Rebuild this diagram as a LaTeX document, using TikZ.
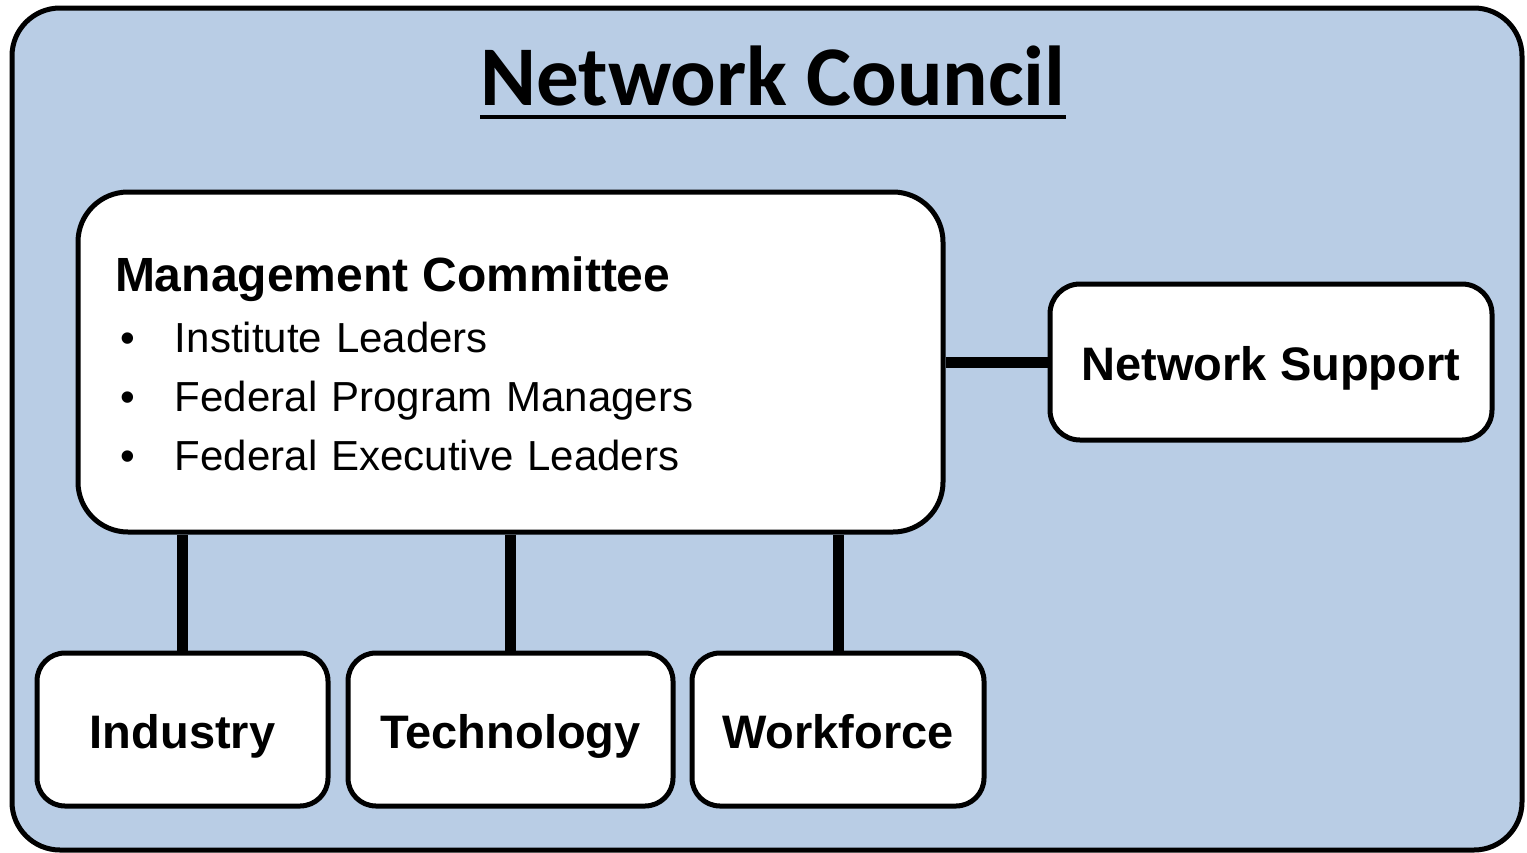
\documentclass[tikz,border=0pt]{standalone}
\usepackage{fontspec}
\setmainfont{Liberation Sans}
\newfontfamily\titlefont{Carlito}
\usetikzlibrary{positioning}
\definecolor{councilblue}{HTML}{B9CDE5}

\begin{document}
\begin{tikzpicture}[x=1pt,y=-1pt,on grid,
  box/.style={draw,line width=5pt,fill=white,rounded corners=28pt,inner sep=0pt,text height=47pt,text depth=10pt,
    minimum width=291pt,minimum height=153pt,font=\bfseries\fontsize{47}{56}\selectfont},
  link/.style={line width=11pt}]
  \useasboundingbox (0,0) rectangle (1527,852);
  % Council background with its underlined title
  \draw[line width=5pt,fill=councilblue,rounded corners=48pt] (12,8) rectangle (1522,850);
  \node[inner sep=0pt,anchor=base,font=\titlefont\bfseries\fontsize{85}{100}\selectfont] (title) at (773,105) {Network Council};
  \draw[line width=4pt] ([yshift=-12pt]title.base west) -- ([yshift=-12pt]title.base east); % underline

  % Committee and the boxes round it
  \node[box,rounded corners=50pt,minimum width=865pt,minimum height=340pt,text width=791pt,align=left,
    text height=39pt,text depth=,font=\fontsize{42}{59}\selectfont] (mgmt) at (510.5,362)
    {{\bfseries\fontsize{48}{59}\selectfont Management Committee}\\[2pt]
     \hspace*{5pt}\makebox[55pt][l]{\textbullet}Institute Leaders\\
     \hspace*{5pt}\makebox[55pt][l]{\textbullet}Federal Program Managers\\
     \hspace*{5pt}\makebox[55pt][l]{\textbullet}Federal Executive Leaders};
  \node[box,rounded corners=30pt,minimum width=442pt,minimum height=156pt] (supp) [right=760.5pt of mgmt] {Network Support};
  \node[box,minimum width=325pt] (tech) [below=367.5pt of mgmt] {Technology};
  \node[box] (ind) [left=328pt of tech] {Industry};
  \node[box,minimum width=292pt] (work) [right=327.5pt of tech] {Workforce};

  % Links
  \draw[link] (mgmt) -- (supp);
  \foreach \unit in {ind,tech,work}
    \draw[link] (mgmt.south -| \unit.north) -- (\unit.north);
\end{tikzpicture}
\end{document}
